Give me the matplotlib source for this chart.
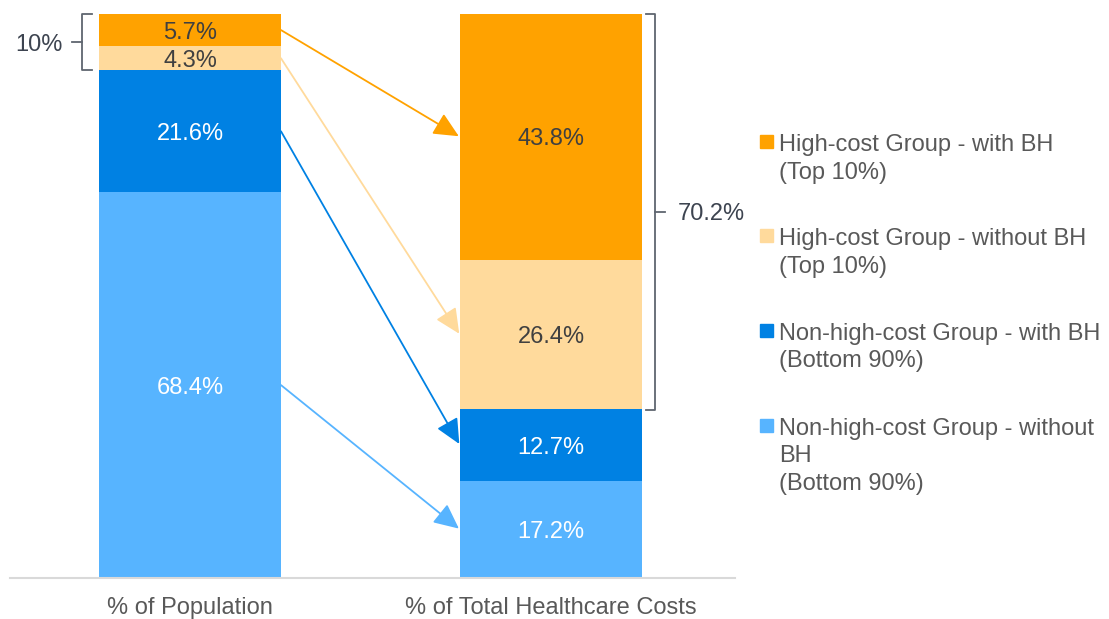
import numpy as np
import matplotlib.pyplot as plt
from matplotlib.patches import Rectangle

plt.rcParams['font.family'] = ['Liberation Sans', 'DejaVu Sans']

# data
bars = ['% of Population', '% of Total Healthcare Costs']
groups = ['Non-high-cost Group - without BH (Bottom 90%)',
          'Non-high-cost Group - with BH (Bottom 90%)',
          'High-cost Group - without BH (Top 10%)',
          'High-cost Group - with BH (Top 10%)']
population = [68.4, 21.6, 4.3, 5.7]
costs = [17.2, 12.7, 26.4, 43.8]
legend_lines = [['Non-high-cost Group - without', 'BH', '(Bottom 90%)'],
                ['Non-high-cost Group - with BH', '(Bottom 90%)'],
                ['High-cost Group - without BH', '(Top 10%)'],
                ['High-cost Group - with BH', '(Top 10%)']]

colors = ['#57B4FF', '#0081E3', '#FFDA9C', '#FFA200']
txt_colors = ['white', 'white', '#404040', '#404040']
FS = 17

W, H = 1109, 619
fig = plt.figure(figsize=(W / 100, H / 100), dpi=100)
ax = fig.add_axes([10 / W, (H - 578) / H, 725 / W, 564 / H])

x = np.arange(2)
w = 182 / 361
vals = np.array([population, costs])
bottoms = np.vstack([np.zeros(2), np.cumsum(vals, axis=1)[:, :-1].T]).T
mids = bottoms + vals / 2

for i in range(4):
    ax.bar(x, vals[:, i], w, bottom=bottoms[:, i], color=colors[i],
           edgecolor='none')
    for j in range(2):
        ax.text(x[j], mids[j, i], f'{vals[j, i]:.1f}%', ha='center',
                va='center_baseline', fontsize=FS, color=txt_colors[i])
    # arrows from population segment to cost segment
    ax.annotate('', xy=(x[1] - w / 2, mids[1, i]),
                xytext=(x[0] + w / 2, mids[0, i]),
                arrowprops=dict(arrowstyle='-|>,head_length=0.85,head_width=0.4',
                                color=colors[i], lw=1.3, shrinkA=0, shrinkB=1,
                                mutation_scale=18))

ax.set_xlim(-180 / 361, 1 + 184 / 361)
ax.set_ylim(0, 100)
ax.set_xticks(x)
ax.set_xticklabels(bars, fontsize=FS, color='#595959')
ax.tick_params(axis='x', length=0, pad=14)
ax.set_yticks([])
for s in ['top', 'right', 'left']:
    ax.spines[s].set_visible(False)
ax.spines['bottom'].set_color('#D9D9D9')
ax.spines['bottom'].set_linewidth(1.5)

bc = '#5F6670'
# left bracket: top 10% of population
top_pop = population[2] + population[3]
y0, y1 = 100 - top_pop, 100
xb = (82 - 190) / 361
ax.plot([xb + 0.028, xb, xb, xb + 0.028], [y1, y1, y0, y0], color=bc,
        lw=1.3, clip_on=False)
ax.plot([xb, xb - 0.028], [(y0 + y1) / 2] * 2, color=bc, lw=1.3, clip_on=False)
ax.text(xb - 0.055, (y0 + y1) / 2, f'{top_pop:.0f}%', ha='right',
        va='center_baseline', fontsize=FS, color='#3D4450')

# right bracket: top 10% share of costs
top_cost = costs[2] + costs[3]
y0 = 100 - top_cost
xb = 1 + (655 - 551) / 361
ax.plot([xb - 0.025, xb, xb, xb - 0.025], [y1, y1, y0, y0], color=bc,
        lw=1.3, clip_on=False)
ax.plot([xb, xb + 0.028], [(y0 + y1) / 2] * 2, color=bc, lw=1.3, clip_on=False)
ax.text(xb + 0.063, (y0 + y1) / 2, f'{top_cost:.1f}%', ha='left',
        va='center_baseline', fontsize=FS, color='#3D4450')

# legend, drawn top-down
baselines = [151, 245, 340, 435]
for k, i in enumerate([3, 2, 1, 0]):
    b = baselines[k]
    fig.add_artist(Rectangle((760 / W, (H - b + 3) / H), 13 / W, 13 / H,
                             transform=fig.transFigure, color=colors[i]))
    for n, line in enumerate(legend_lines[i]):
        fig.text(779 / W, (H - b - 27.5 * n) / H, line, ha='left',
                 va='baseline', fontsize=FS, color='#595959')

fig.savefig('out.png', dpi=100)
